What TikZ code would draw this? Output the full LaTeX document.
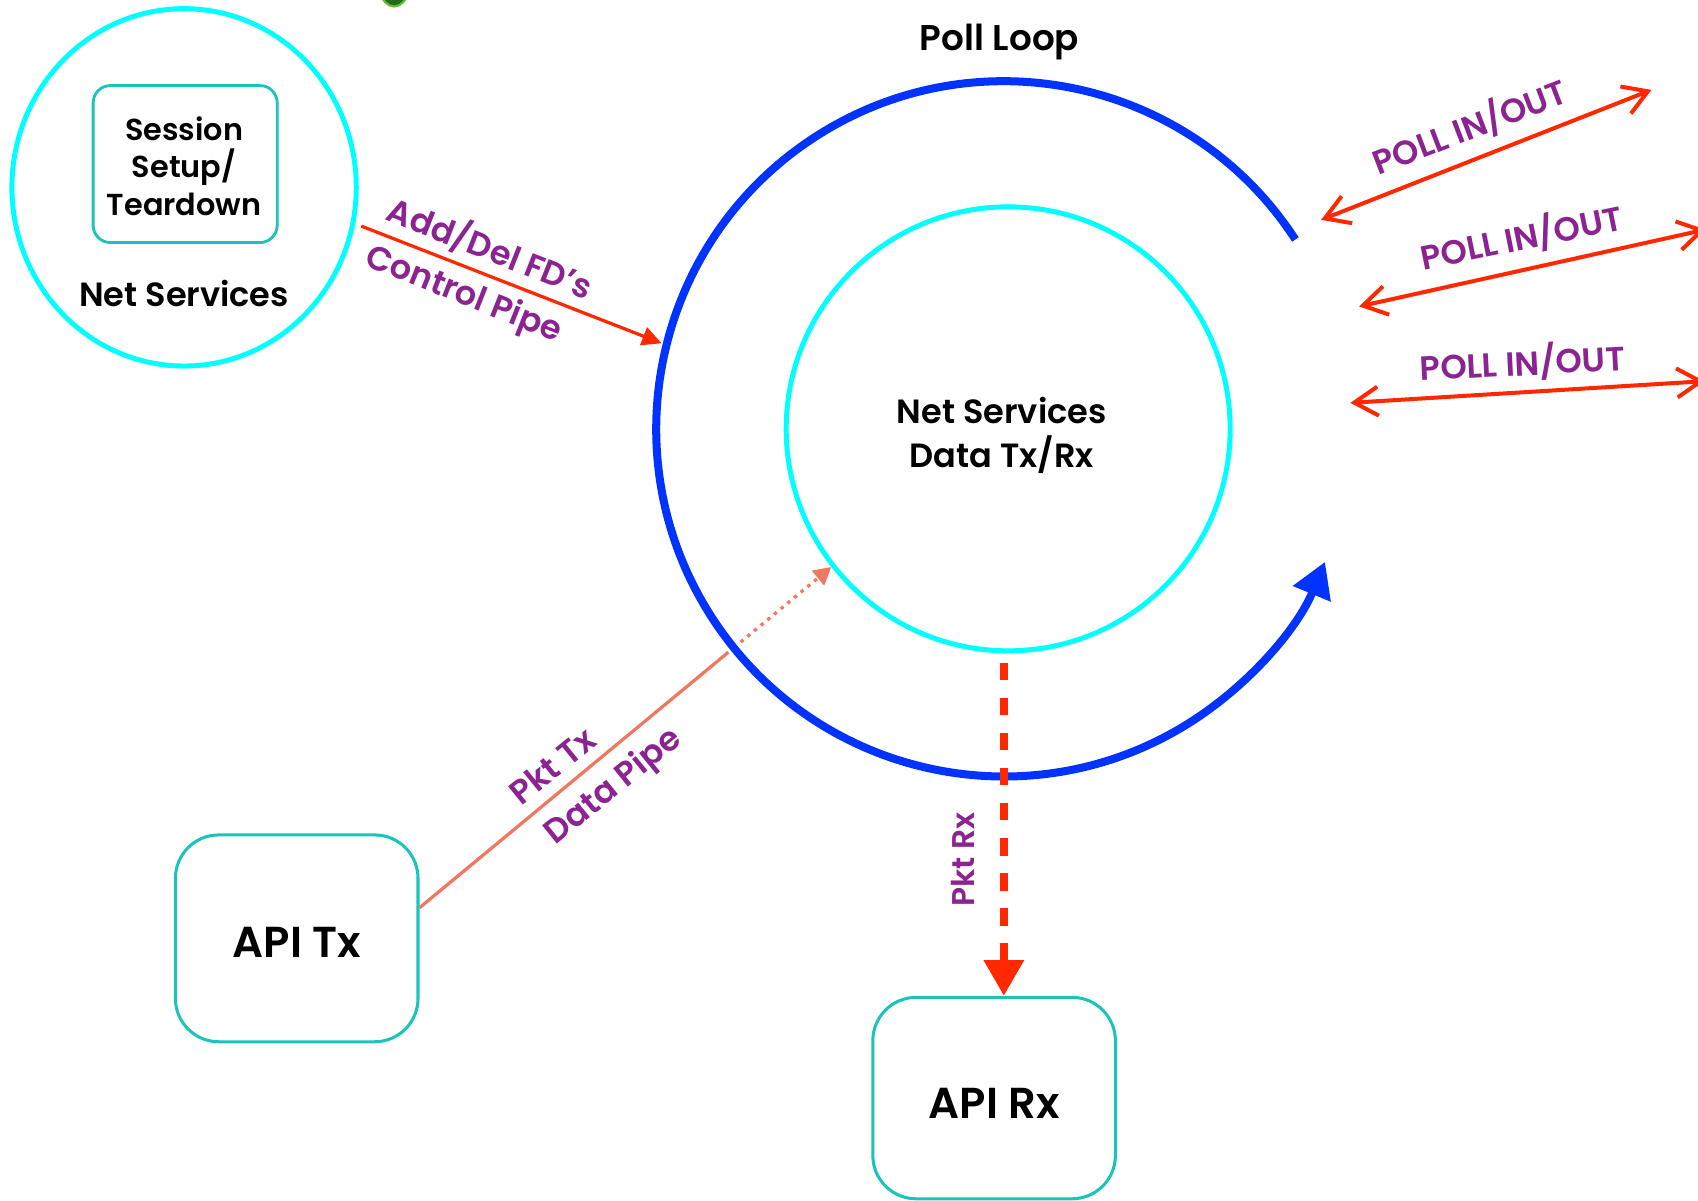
\documentclass[tikz,border=0pt]{standalone}
\usepackage{fontspec}
\setmainfont{Poppins}[BoldFont={Poppins SemiBold}]
\usetikzlibrary{arrows.meta,shapes.geometric,calc}

\definecolor{ringcyan}{RGB}{0,255,255}
\definecolor{boxteal}{RGB}{26,196,188}
\definecolor{loopblue}{RGB}{0,51,255}
\definecolor{pipered}{RGB}{255,40,0}
\definecolor{txsalmon}{RGB}{240,120,96}
\definecolor{tagpurple}{RGB}{139,35,145}
\definecolor{leafdark}{RGB}{34,110,24}
\definecolor{leaflight}{RGB}{100,190,50}

\newcommand{\boldsize}[2]{\fontsize{#1}{#2}\selectfont\bfseries}

\begin{document}
\begin{tikzpicture}[x=0.5pt,y=-0.5pt,
  ring/.style={draw=ringcyan, line width=2.3pt},
  sessbox/.style={draw=boxteal, line width=1.3pt, rounded corners=8pt,
    minimum width=85pt, minimum height=72.5pt, inner sep=0pt},
  apibox/.style={draw=boxteal, line width=1.4pt, rounded corners=20pt,
    minimum width=112pt, minimum height=95.5pt, inner sep=0pt},
  boxtext/.style={inner sep=0pt, font=\boldsize{20pt}{24pt}},
  heading/.style={inner sep=0pt, font=\boldsize{15.5pt}{19pt}},
  tag/.style={text=tagpurple, inner sep=0pt, font=\boldsize{15.5pt}{18pt}},
  loopline/.style={draw=loopblue, line width=3.7pt,
    -{Triangle[length=16pt,width=18pt]}},
  ctlpipe/.style={draw=pipered, line width=1.5pt,
    -{Triangle[length=9pt,width=8.6pt]}},
  txline/.style={draw=txsalmon, line width=1.5pt},
  txdot/.style={draw=txsalmon, line width=1.5pt, dash pattern=on 1.6pt off 2.4pt,
    -{Triangle[length=8pt,width=8.6pt]}},
  rxline/.style={draw=pipered, line width=3.8pt, dash pattern=on 8pt off 8.2pt,
    -{Triangle[length=16.5pt,width=17.7pt]}},
  poll/.style={draw=pipered, line width=1.85pt,
    {Straight Barb[length=11pt,width=13.4pt]}-{Straight Barb[length=11pt,width=13.4pt]}},
]
\useasboundingbox (0,0) rectangle (1568,1109);
\clip (0,0) rectangle (1568,1109);
\fill[white] (0,0) rectangle (1568,1109);

% small shape at the top edge
\fill[leafdark, draw=leaflight, line width=1pt] (364,-8) ellipse [x radius=12, y radius=14];

% session side
\node[ring, ellipse, minimum width=159pt, minimum height=165pt] (ns) at (170,173) {};
\node[sessbox] (session) at (171,151.5) {};
\node[heading, align=center, font=\boldsize{14pt}{17.5pt}] (sessiontext) at (170,153.5) {Session\\Setup/\\Teardown};
\node[heading] (nslabel) at (170,271) {Net Services};

% poll loop with the data ring inside
\coordinate (loopc) at (927,396);
\draw[loopline] (loopc) ++(-33:321) arc[start angle=-33, end angle=-337.5, radius=321];
\node[heading, font=\boldsize{16.5pt}{19pt}] (polllabel) at (923,39) {Poll Loop};
\node[ring, circle, minimum size=205pt, inner sep=0pt] (nsdata) at (931,396) {};
\node[heading, align=center, font=\boldsize{15.5pt}{20.5pt}] (nsdatalabel) at (925,402) {Net Services\\Data Tx/Rx};

% API boxes
\node[apibox] (apitx) at (274,866.5) {};
\node[boxtext] (apitxlabel) at (274,870) {API Tx};
\node[apibox, minimum height=93pt] (apirx) at (918,1014) {};
\node[boxtext] (apirxlabel) at (918,1019) {API Rx};

% control pipe
\coordinate (ctlend) at (611,317);
\draw[ctlpipe, shorten <=3pt] (ns.-12) -- (ctlend);
\node[tag, rotate=-21.6] (ctltop) at (453,229) {Add/Del FD's};
\node[tag, rotate=-21.6] (ctlbot) at (428,273) {Control Pipe};

% transmit data pipe
\draw[txline] (apitx.14) -- ($(apitx.14)!0.75!(nsdata.218)$);
\draw[txdot] ($(apitx.14)!0.78!(nsdata.218)$) -- (nsdata.218);
\node[tag, rotate=39] (txtop) at (510,707) {Pkt Tx};
\node[tag, rotate=39] (txbot) at (567,727) {Data Pipe};

% receive path
\coordinate (rxstart) at (927,612);
\draw[rxline] (rxstart) -- (rxstart |- apirx.north);
\node[tag, rotate=90, font=\boldsize{14.5pt}{17pt}] (rxtag) at (889,794) {Pkt Rx};

% poll events
\coordinate (p1l) at (1220,203);
\coordinate (p1r) at (1525,83);
\coordinate (p2l) at (1255,283);
\coordinate (p2r) at (1575,212);
\coordinate (p3l) at (1247,372);
\coordinate (p3r) at (1574,352);
\draw[poll] (p1l) -- (p1r);
\draw[poll] (p2l) -- (p2r);
\draw[poll] (p3l) -- (p3r);
\node[tag, rotate=21] (poll1) at (1357,117) {POLL IN/OUT};
\node[tag, rotate=11.5] (poll2) at (1405,219) {POLL IN/OUT};
\node[tag, rotate=3] (poll3) at (1406,335) {POLL IN/OUT};
\end{tikzpicture}
\end{document}
